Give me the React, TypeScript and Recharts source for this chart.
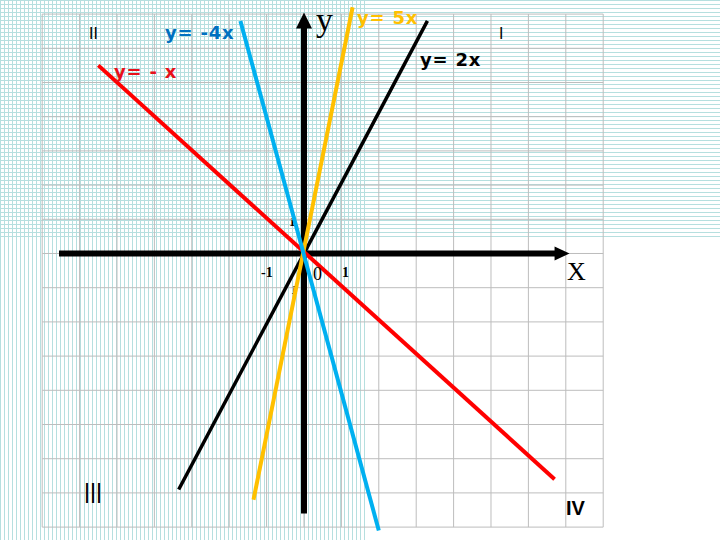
import React from 'react';
import { LineChart, Line, XAxis, YAxis, ReferenceLine, ReferenceDot } from 'recharts';

// graph-paper grid, one cell = one unit
const gridX = [-7, -6, -5, -4, -3, -2, -1, 0, 1, 2, 3, 4, 5, 6, 7, 8];
const gridY = [-8, -7, -6, -5, -4, -3, -2, -1, 0, 1, 2, 3, 4, 5, 6, 7];

// each line drawn between the two ends
const lineMinusX = [{ x: -5.5, y: 5.5 }, { x: 6.7, y: -6.6 }];
const lineMinus4x = [{ x: -1.7, y: 6.8 }, { x: 2.0, y: -8.1 }];
const line5x = [{ x: -1.35, y: -7.2 }, { x: 1.3, y: 7.2 }];
const line2x = [{ x: -3.35, y: -6.9 }, { x: 3.3, y: 6.8 }];

// coordinate axes
const axisX = [{ x: -6.55, y: 0 }, { x: 6.85, y: 0 }];
const axisY = [{ x: 0, y: -7.6 }, { x: 0, y: 6.6 }];
const arrowX = { x: 7.1, y: 0 };
const arrowY = { x: 0, y: 7.05 };

const xDomain = [-8.128, 11.123];
const yDomain = [-8.377, 7.412];

const FINE = '#b6dfdf';
const GRID = '#bdbdbd';
const SANS_B = '"DejaVu Sans", sans-serif';

const ArrowRight = (p: any) => (
  <polygon points={`${p.cx},${p.cy} ${p.cx - 15},${p.cy - 7} ${p.cx - 15},${p.cy + 7}`} fill="#000" />
);
const ArrowUp = (p: any) => (
  <polygon points={`${p.cx},${p.cy} ${p.cx - 8},${p.cy + 16} ${p.cx + 8},${p.cy + 16}`} fill="#000" />
);

export default function App() {
  return (
    <div style={{ position: 'absolute', left: 0, top: 0, width: 720, height: 540, overflow: 'hidden', background: '#fff' }}>
      {/* fine ruling of the paper */}
      <div style={{
        position: 'absolute', left: 0, top: 0, width: 720, height: 240,
        backgroundImage: `repeating-linear-gradient(to bottom, ${FINE} 0 1px, transparent 1px 4px)`,
      }} />
      <div style={{
        position: 'absolute', left: 0, top: 0, width: 368, height: 540,
        backgroundImage: `repeating-linear-gradient(to right, ${FINE} 0 1px, transparent 1px 4px)`,
      }} />

      <svg width={720} height={540} style={{ position: 'absolute', left: 0, top: 0 }}>
        <text x={289} y={226} fontFamily="Liberation Serif" fontWeight="bold" fontSize={13}>1</text>
        <text x={291} y={294} fontFamily="Liberation Serif" fontWeight="bold" fontSize={13}>1</text>
      </svg>

      <div style={{ position: 'absolute', left: 0, top: 0 }}>
        <LineChart width={720} height={540} margin={{ top: 0, right: 0, bottom: 0, left: 0 }}>
          <XAxis type="number" dataKey="x" domain={xDomain} allowDataOverflow hide />
          <YAxis type="number" dataKey="y" domain={yDomain} allowDataOverflow hide />
          {gridY.map(v => (
            <ReferenceLine key={`h${v}`} segment={[{ x: gridX[0], y: v }, { x: gridX[gridX.length - 1], y: v }]} stroke={GRID} strokeWidth={1} />
          ))}
          {gridX.map(v => (
            <ReferenceLine key={`v${v}`} segment={[{ x: v, y: gridY[0] }, { x: v, y: gridY[gridY.length - 1] }]} stroke={GRID} strokeWidth={1} />
          ))}
          <Line data={axisX} dataKey="y" type="linear" stroke="#000" strokeWidth={6} dot={false} activeDot={false} isAnimationActive={false} />
          <Line data={axisY} dataKey="y" type="linear" stroke="#000" strokeWidth={6} dot={false} activeDot={false} isAnimationActive={false} />
          <ReferenceDot x={arrowX.x} y={arrowX.y} r={0} shape={ArrowRight} />
          <ReferenceDot x={arrowY.x} y={arrowY.y} r={0} shape={ArrowUp} />
          <Line data={line2x} dataKey="y" type="linear" stroke="#000" strokeWidth={3.5} dot={false} activeDot={false} isAnimationActive={false} />
          <Line data={lineMinusX} dataKey="y" type="linear" stroke="#f00" strokeWidth={4} dot={false} activeDot={false} isAnimationActive={false} />
          <Line data={line5x} dataKey="y" type="linear" stroke="#ffc000" strokeWidth={4} dot={false} activeDot={false} isAnimationActive={false} />
          <Line data={lineMinus4x} dataKey="y" type="linear" stroke="#00b0f0" strokeWidth={4} dot={false} activeDot={false} isAnimationActive={false} />
        </LineChart>
      </div>

      <svg width={720} height={540} style={{ position: 'absolute', left: 0, top: 0, pointerEvents: 'none' }}>
        <text x={89} y={39} fontFamily="DejaVu Sans" fontSize={15}>II</text>
        <text x={499} y={39} fontFamily="DejaVu Sans" fontSize={15}>I</text>
        <text x={84} y={503} fontFamily="DejaVu Sans" fontSize={26} textLength={18} lengthAdjust="spacingAndGlyphs">III</text>
        <text x={566} y={515} fontFamily="Liberation Sans" fontWeight="bold" fontSize={20}>IV</text>

        <text x={165} y={39} fontFamily={SANS_B} fontWeight="bold" fontSize={18} letterSpacing={0.8} fill="#0070c0">y= -4x</text>
        <text x={114} y={78} fontFamily={SANS_B} fontWeight="bold" fontSize={18} letterSpacing={0.8} fill="#e8101a">y= - x</text>
        <text x={357} y={24} fontFamily={SANS_B} fontWeight="bold" fontSize={18} letterSpacing={0.8} fill="#ffc000">y= 5x</text>
        <text x={420} y={66} fontFamily={SANS_B} fontWeight="bold" fontSize={18} letterSpacing={0.8} fill="#000">y= 2x</text>

        <text x={316} y={31} fontFamily="Liberation Serif" fontSize={34}>y</text>
        <text x={567} y={280} fontFamily="Liberation Serif" fontSize={26}>X</text>
        <text x={261} y={277} fontFamily="Liberation Serif" fontWeight="bold" fontSize={14}>-1</text>
        <text x={313} y={280} fontFamily="Liberation Serif" fontSize={18}>0</text>
        <text x={342} y={277} fontFamily="Liberation Serif" fontWeight="bold" fontSize={14}>1</text>
      </svg>
    </div>
  );
}
